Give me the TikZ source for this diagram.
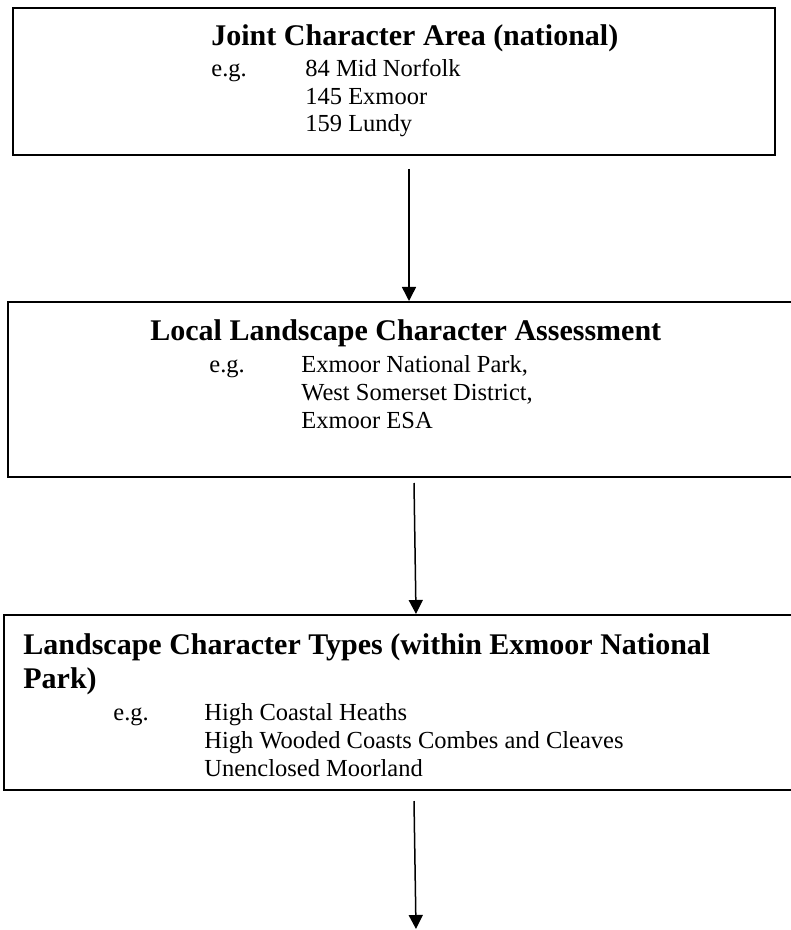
\documentclass[tikz,border=0pt]{standalone}
\usepackage{fontspec}
\setmainfont{Liberation Serif}
\usetikzlibrary{arrows.meta}
\tikzset{
  box/.style={draw, line width=1pt, rectangle, inner sep=0pt},
  ttl/.style={anchor=base west, inner sep=0pt, font=\fontsize{15}{17}\selectfont\bfseries},
  txt/.style={anchor=base west, inner sep=0pt, font=\fontsize{12.25}{14}\selectfont},
  conn/.style={-{Triangle[length=7pt,width=7pt]}, line width=0.75pt},
}
\begin{document}
\begin{tikzpicture}[x=0.5pt,y=-0.5pt]
\useasboundingbox (0,0) rectangle (791,930);
% boxes
\node[box, minimum width=381pt, minimum height=73.5pt] (b1) at (394,81.5) {};
\node[box, minimum width=393.5pt, minimum height=87.5pt] (b2) at (401.5,389.5) {};
\node[box, minimum width=395.5pt, minimum height=87.5pt] (b3) at (399.5,702.5) {};
% box 1 text
\node[ttl] (t1) at (211,46) {Joint Character Area (national)};
\node[txt] (e1) at (211,77) {e.g.};
\node[txt] (i11) at (305,77) {84 Mid Norfolk};
\node[txt] (i12) at (305,104.5) {145 Exmoor};
\node[txt] (i13) at (305,132) {159 Lundy};
% box 2 text
\node[ttl] (t2) at (150,340) {Local Landscape Character Assessment};
\node[txt] (e2) at (209,372) {e.g.};
\node[txt] (i21) at (301,372) {Exmoor National Park,};
\node[txt] (i22) at (301,400) {West Somerset District,};
\node[txt] (i23) at (301,428) {Exmoor ESA};
% box 3 text
\node[ttl] (t3a) at (23,654) {Landscape Character Types (within Exmoor National};
\node[ttl] (t3b) at (23,688) {Park)};
\node[txt] (e3) at (113,720) {e.g.};
\node[txt] (i31) at (204,720) {High Coastal Heaths};
\node[txt] (i32) at (204,748) {High Wooded Coasts Combes and Cleaves};
\node[txt] (i33) at (204,776) {Unenclosed Moorland};
% connectors
\coordinate (s1) at (409,169);
\coordinate (s2) at (414,483);
\coordinate (s3) at (414,801);
\coordinate (e3end) at (416,929);
\draw[conn] (s1) -- (s1 |- b2.north);
\draw[conn] (s2) -- ([xshift=1pt]s2 |- b3.north);
\draw[conn] (s3) -- (e3end);
\end{tikzpicture}
\end{document}
